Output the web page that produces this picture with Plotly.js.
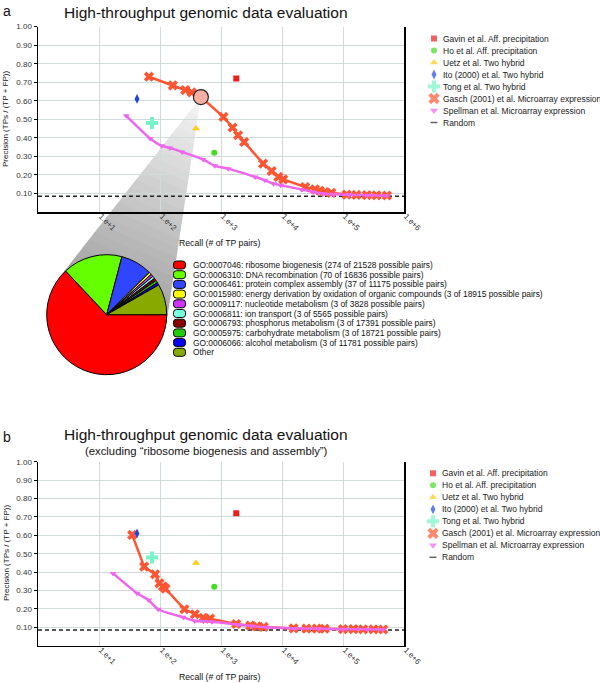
<!DOCTYPE html>
<html><head><meta charset="utf-8">
<script src="https://cdn.plot.ly/plotly-3.0.1.min.js"></script>
<style>html,body{margin:0;padding:0;background:#fff}#chart{width:600px;height:683px}</style>
</head><body><div id="chart"></div>
<script>
// ---------------- DATA ----------------
const recallTicks = [10, 100, 1000, 10000, 100000, 1000000];
const recallTickLabels = ['1.e+1', '1.e+2', '1.e+3', '1.e+4', '1.e+5', '1.e+6'];
const precisionTicks = [0.1, 0.2, 0.3, 0.4, 0.5, 0.6, 0.7, 0.8, 0.9, 1.0];
const precisionTickLabels = ['0.10', '0.20', '0.30', '0.40', '0.50', '0.60', '0.70', '0.80', '0.90', '1.00'];

const singleNames = ['Gavin et al. Aff. precipitation', 'Ho et al. Aff. precipitation', 'Uetz et al. Two hybrid', 'Ito (2000) et al. Two hybrid', 'Tong et al. Two hybrid'];
const singleRecall = [1780, 776, 390, 42, 74];
const singlePrecision = [0.72, 0.32, 0.45, 0.61, 0.48];

const gaschName = 'Gasch (2001) et al. Microarray expression';
const spellmanName = 'Spellman et al. Microarray expression';
const randomName = 'Random';
const randomPrecision = 0.085;

// panel a
const gaschA_recall = [66, 162, 260, 331, 468, 1096, 1549, 1905, 2399, 4898, 6761, 8710, 10471, 23988, 34674, 41687, 50119, 64565, 114815, 165959, 245471, 354813, 524807];
const gaschA_precision = [0.73, 0.683, 0.658, 0.645, 0.62, 0.513, 0.456, 0.414, 0.378, 0.261, 0.221, 0.189, 0.176, 0.135, 0.122, 0.115, 0.108, 0.103, 0.094, 0.092, 0.091, 0.09, 0.089];
const highlightIndex = 4;
const spellA_recall = [28, 69, 107, 145, 229, 513, 794, 1318, 3631, 5248, 7244, 9550, 20893, 32359, 47863, 69183, 125893, 251189, 524807];
const spellA_precision = [0.519, 0.397, 0.357, 0.346, 0.324, 0.283, 0.249, 0.234, 0.189, 0.171, 0.153, 0.144, 0.122, 0.108, 0.099, 0.096, 0.093, 0.09, 0.088];

// panel b (excluding ribosome biogenesis and assembly)
const gaschB_recall = [35, 55, 83, 98, 112, 123, 251, 372, 513, 661, 1778, 3020, 3890, 5012, 15488, 25119, 37154, 50119, 100000, 147911, 213796, 316228, 457088];
const gaschB_precision = [0.602, 0.43, 0.388, 0.339, 0.322, 0.31, 0.198, 0.171, 0.152, 0.147, 0.118, 0.109, 0.105, 0.102, 0.094, 0.093, 0.093, 0.092, 0.09, 0.09, 0.089, 0.089, 0.088];
const spellB_recall = [17, 42, 65, 93, 240, 372, 513, 708, 1905, 3162, 5623, 15849, 39811, 100000, 251189, 457088];
const spellB_precision = [0.393, 0.285, 0.248, 0.198, 0.154, 0.134, 0.133, 0.13, 0.114, 0.107, 0.1, 0.094, 0.092, 0.09, 0.089, 0.088];

// pie
const pieLabels = [
  'GO:0007046: ribosome biogenesis (274 of 21528 possible pairs)',
  'GO:0006310: DNA recombination (70 of 16836 possible pairs)',
  'GO:0006461: protein complex assembly (37 of 11175 possible pairs)',
  'GO:0015980: energy derivation by oxidation of organic compounds (3 of 18915 possible pairs)',
  'GO:0009117: nucleotide metabolism (3 of 3828 possible pairs)',
  'GO:0006811: ion transport (3 of 5565 possible pairs)',
  'GO:0006793: phosphorus metabolism (3 of 17391 possible pairs)',
  'GO:0005975: carbohydrate metabolism (3 of 18721 possible pairs)',
  'GO:0006066: alcohol metabolism (3 of 11781 possible pairs)',
  'Other'
];
const pieValues = [274, 70, 37, 3, 3, 3, 3, 3, 3, 36];

// ---------------- STYLE ----------------
const W = 600, H = 683;
const FONT = 'Liberation Sans, Arial, sans-serif';
const singleColors = ['#ee1c1c', '#44dd22', '#ffcc11', '#2244ee', '#77f5c8'];
const singleSymbols = ['square', 'circle', 'triangle-up', 'diamond-tall', 'cross'];
const singleSizes = [6, 6, 7, 7, 10];
const gaschColor = '#ff5533', spellColor = '#ee66ee', randomColor = '#222222';
const pieColors = ['#ff0000', '#66ff00', '#2f45ff', '#ffff00', '#cc33ff', '#77ffdd', '#880000', '#22cc00', '#0000ee', '#88aa00'];

const px = x => x / W, py = y => 1 - y / H;

const traces = [];
function addPanel(xa, ya, gx, gy, sx, sy, withHighlight) {
  traces.push({type: 'scatter', mode: 'lines', x: [1, 1e6], y: [randomPrecision, randomPrecision],
    xaxis: xa, yaxis: ya, line: {color: randomColor, width: 1.5, dash: '4px,3px'}, hoverinfo: 'skip', showlegend: false});
  traces.push({type: 'scatter', mode: 'lines+markers', x: gx, y: gy, xaxis: xa, yaxis: ya,
    line: {color: gaschColor, width: 2.5}, marker: {symbol: 'x', size: 9, color: gaschColor}, showlegend: false, name: gaschName});
  traces.push({type: 'scatter', mode: 'lines+markers', x: sx, y: sy, xaxis: xa, yaxis: ya,
    line: {color: spellColor, width: 2.5, shape: 'spline', smoothing: 0.6}, marker: {symbol: 'triangle-down', size: 6, color: spellColor}, showlegend: false, name: spellmanName});
  for (let i = 0; i < singleNames.length; i++) {
    traces.push({type: 'scatter', mode: 'markers', x: [singleRecall[i]], y: [singlePrecision[i]], xaxis: xa, yaxis: ya,
      marker: {symbol: singleSymbols[i], size: singleSizes[i], color: singleColors[i]}, showlegend: false, name: singleNames[i]});
  }
  if (withHighlight) {
    traces.push({type: 'scatter', mode: 'markers', x: [gx[highlightIndex]], y: [gy[highlightIndex]], xaxis: xa, yaxis: ya,
      marker: {symbol: 'circle', size: 15, color: '#f7b0a4', line: {color: '#222', width: 1.2}}, showlegend: false});
  }
}
addPanel('x', 'y', gaschA_recall, gaschA_precision, spellA_recall, spellA_precision, true);
addPanel('x2', 'y2', gaschB_recall, gaschB_precision, spellB_recall, spellB_precision, false);

// pie
traces.push({type: 'pie', labels: pieLabels, values: pieValues, sort: false, direction: 'clockwise', rotation: 90,
  marker: {colors: pieColors, line: {color: '#000', width: 1}}, textinfo: 'none', hoverinfo: 'skip', showlegend: false,
  domain: {x: [px(46.7), px(166.7)], y: [py(375), py(254.4)]}});

// custom legends (markers on a full-page overlay axis)
const legNames = singleNames.concat([gaschName, spellmanName, randomName]);
const legSymbols = singleSymbols.concat(['x', 'triangle-down', 'line-ew']);
const legColors = singleColors.concat([gaschColor, spellColor, randomColor]);
const legSizes = [6, 6, 7, 7, 10, 10, 7, 5];
const legendBlocks = [{mx: 434, tx: 441, y0: 38.5}, {mx: 433, tx: 440, y0: 473.3}];
const annotations = [];
legendBlocks.forEach(b => {
  const ys = legNames.map((_, i) => b.y0 + i * 12);
  traces.push({type: 'scatter', mode: 'markers', x: legNames.map(() => b.mx), y: ys, xaxis: 'x3', yaxis: 'y3',
    marker: {symbol: legSymbols, size: legSizes, color: legColors,
      line: {color: legColors, width: legSymbols.map(s => s === 'line-ew' ? 1.5 : 0)}},
    hoverinfo: 'skip', showlegend: false, cliponaxis: false});
  legNames.forEach((n, i) => annotations.push({text: n, x: px(b.tx), y: py(ys[i]), xref: 'paper', yref: 'paper',
    showarrow: false, xanchor: 'left', yanchor: 'middle', font: {size: 8.5, family: FONT, color: '#222'}}));
});

function ann(text, x, y, size, extra) {
  return Object.assign({text: text, x: px(x), y: py(y), xref: 'paper', yref: 'paper', showarrow: false,
    xanchor: 'center', yanchor: 'middle', font: {size: size, family: FONT, color: '#111'}}, extra || {});
}
annotations.push(ann('a', 7, 11, 14));
annotations.push(ann('b', 7, 437, 14));
annotations.push(ann('High-throughput genomic data evaluation', 206, 12, 15.5));
annotations.push(ann('High-throughput genomic data evaluation', 206, 434, 15.5));
annotations.push(ann('(excluding \u201cribosome biogenesis and assembly\u201d)', 207, 451, 11.3));
annotations.push(ann('Precision (TPs / (TP + FP))', 6, 119, 8, {textangle: -90}));
annotations.push(ann('Precision (TPs / (TP + FP))', 6, 553, 8, {textangle: -90}));
annotations.push(ann('Recall (# of TP pairs)', 219, 243, 8.7));
annotations.push(ann('Recall (# of TP pairs)', 219, 677, 8.7));

// pie legend
const shapes = [];
function pp(p) { return px(p[0]).toFixed(5) + ',' + py(p[1]).toFixed(5); }
pieLabels.forEach((lab, i) => {
  const yc = 265 + i * 9.7;
  annotations.push({text: lab, x: px(191), y: py(yc), xref: 'paper', yref: 'paper', showarrow: false,
    xanchor: 'left', yanchor: 'middle', font: {size: 8.4, family: FONT, color: '#111'}});
  const x0 = 173.5, x1 = 185.5, y0 = yc - 4, y1 = yc + 4, r = 3;
  const path = 'M' + pp([x0 + r, y0]) + ' L' + pp([x1 - r, y0]) + ' Q' + pp([x1, y0]) + ' ' + pp([x1, y0 + r]) +
    ' L' + pp([x1, y1 - r]) + ' Q' + pp([x1, y1]) + ' ' + pp([x1 - r, y1]) + ' L' + pp([x0 + r, y1]) +
    ' Q' + pp([x0, y1]) + ' ' + pp([x0, y1 - r]) + ' L' + pp([x0, y0 + r]) + ' Q' + pp([x0, y0]) + ' ' + pp([x0 + r, y0]) + ' Z';
  shapes.push({type: 'path', path: path, xref: 'paper', yref: 'paper', fillcolor: pieColors[i], line: {color: '#000', width: 1}});
});

// gray zoom wedge from highlighted point to the pie
const apex = [201, 97], pc = [106.7, 314.7], pr = 60.3;
const ddx = pc[0] - apex[0], ddy = pc[1] - apex[1], dd = Math.hypot(ddx, ddy);
const base = Math.atan2(ddy, ddx), off = Math.asin(pr / dd), tl = Math.sqrt(dd * dd - pr * pr);
const T1 = [apex[0] + tl * Math.cos(base + off), apex[1] + tl * Math.sin(base + off)];
const T2 = [apex[0] + tl * Math.cos(base - off), apex[1] + tl * Math.sin(base - off)];
const N = 24;
const lerp = (P, t) => [apex[0] + t * (P[0] - apex[0]), apex[1] + t * (P[1] - apex[1])];
for (let i = 0; i < N; i++) {
  const t0 = i / N, t1 = Math.min(1, (i + 1) / N + 0.004);
  const g = Math.round(246 - (246 - 160) * ((i + 0.5) / N));
  shapes.push({type: 'path', xref: 'paper', yref: 'paper', layer: 'below',
    path: 'M' + pp(lerp(T1, t0)) + ' L' + pp(lerp(T1, t1)) + ' L' + pp(lerp(T2, t1)) + ' L' + pp(lerp(T2, t0)) + ' Z',
    fillcolor: 'rgb(' + g + ',' + g + ',' + g + ')', line: {width: 0}});
}

function xAxis(anchor) {
  return {domain: [px(38), px(404)], anchor: anchor, type: 'log', range: [0, 6], tickvals: recallTicks, ticktext: recallTickLabels,
    tickangle: 45, ticklabelshift: 2, ticklabelstandoff: -5,
    showgrid: true, gridcolor: '#d2dbdb', gridwidth: 1, showline: true, linecolor: '#000', linewidth: 1.5,
    ticks: '', tickfont: {size: 8, family: FONT, color: '#333'}, zeroline: false, fixedrange: true};
}
function yAxis(anchor, yTop, yBot) {
  return {domain: [py(yBot), py(yTop)], anchor: anchor, range: [0, 1], tickvals: precisionTicks, ticktext: precisionTickLabels,
    showgrid: true, gridcolor: '#d2dbdb', gridwidth: 1, showline: true, mirror: true, linecolor: '#000', linewidth: 1.5,
    ticks: 'outside', ticklen: 3, tickcolor: '#000', tickfont: {size: 8, family: FONT, color: '#333'}, zeroline: false, fixedrange: true};
}

const layout = {
  width: W, height: H, margin: {l: 0, r: 0, t: 0, b: 0}, paper_bgcolor: '#fff', plot_bgcolor: 'rgba(0,0,0,0)',
  showlegend: false, font: {family: FONT},
  xaxis: xAxis('y'), yaxis: yAxis('x', 26.67, 212),
  xaxis2: xAxis('y2'), yaxis2: yAxis('x2', 461.7, 645.7),
  xaxis3: {domain: [0, 1], range: [0, W], visible: false, anchor: 'y3', fixedrange: true},
  yaxis3: {domain: [0, 1], range: [H, 0], visible: false, anchor: 'x3', fixedrange: true},
  annotations: annotations, shapes: shapes
};
Plotly.newPlot('chart', traces, layout, {staticPlot: true, displayModeBar: false});
</script></body></html>
